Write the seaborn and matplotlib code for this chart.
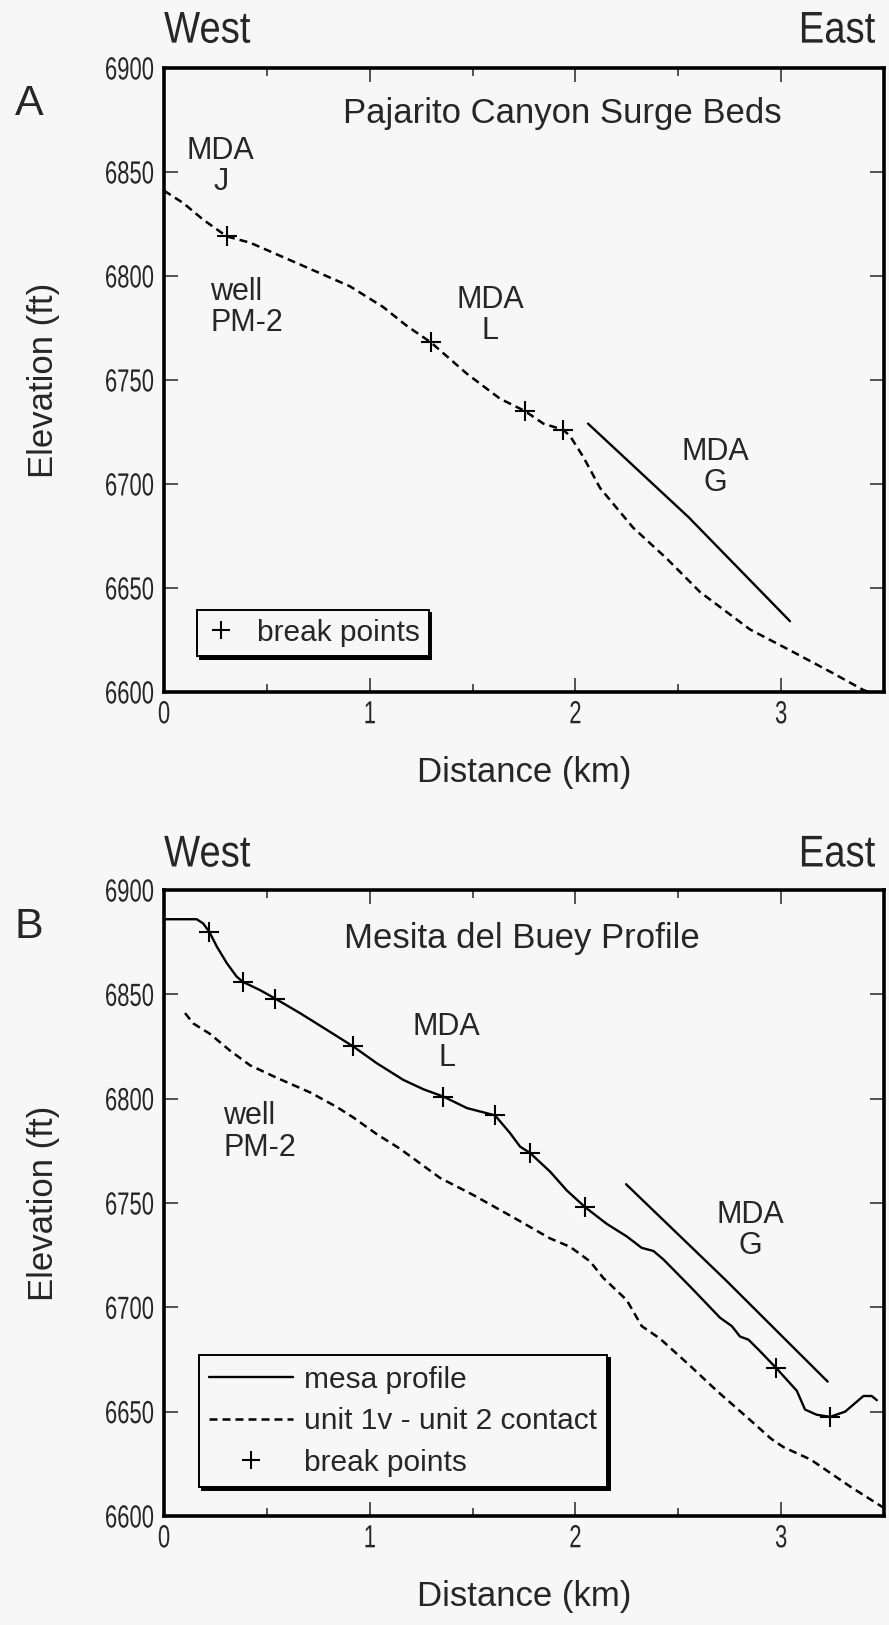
import matplotlib
matplotlib.use('Agg')
import matplotlib.pyplot as plt
from matplotlib.lines import Line2D
from matplotlib.patheffects import AbstractPathEffect
from matplotlib.transforms import Affine2D
import seaborn as sns

# Panel A - Pajarito Canyon surge beds
a_contact_x = [0.0, 0.094, 0.191, 0.305, 0.418, 0.580, 0.742, 0.904, 1.066, 1.180, 1.298, 1.472, 1.633,
               1.755, 1.844, 1.941, 1.974, 2.038, 2.120, 2.280, 2.445, 2.606, 2.849, 3.043, 3.252, 3.398, 3.5]
a_contact_y = [6841, 6835, 6827, 6819, 6816, 6809, 6802, 6795, 6785, 6776, 6768, 6753, 6741,
               6735, 6729, 6726, 6723, 6713, 6698, 6679, 6664, 6648, 6630, 6620, 6609, 6601, 6597]
a_mdag_x = [2.061, 2.55, 3.043]
a_mdag_y = [6729, 6684, 6634]
a_break_x = [0.305, 1.298, 1.755, 1.941]
a_break_y = [6819, 6768, 6735, 6726]

# Panel B - Mesita del Buey profile
b_profile_x = [0.0, 0.159, 0.190, 0.220, 0.256, 0.305, 0.353, 0.383, 0.467, 0.540, 0.661, 0.791, 0.920,
               1.034, 1.163, 1.261, 1.358, 1.472, 1.609, 1.682, 1.731, 1.779, 1.877, 1.958, 2.047, 2.152,
               2.249, 2.322, 2.379, 2.427, 2.557, 2.703, 2.760, 2.800, 2.841, 2.897, 2.975, 3.076, 3.116,
               3.173, 3.238, 3.311, 3.400, 3.440, 3.465]
b_profile_y = [6886, 6886, 6884, 6880, 6873, 6865, 6858.5, 6856, 6852, 6848, 6841, 6833, 6825,
               6817, 6809, 6804.5, 6801, 6795.5, 6792, 6783.5, 6777, 6774, 6765, 6756, 6748, 6740,
               6734, 6728.5, 6727, 6723, 6710, 6695, 6691, 6686, 6684.5, 6679, 6671, 6660, 6651,
               6648.5, 6647.5, 6650, 6657.5, 6657.5, 6655.5]
b_contact_x = [0.102, 0.143, 0.224, 0.321, 0.418, 0.548, 0.710, 0.840, 0.920, 1.034, 1.147, 1.342, 1.5,
               1.7, 1.877, 1.974, 2.071, 2.136, 2.249, 2.322, 2.411, 2.557, 2.687, 2.849, 2.951, 3.011,
               3.144, 3.337, 3.489, 3.5]
b_contact_y = [6841, 6836, 6831, 6823, 6816, 6810, 6803, 6796, 6791, 6783, 6776, 6762, 6754,
               6743, 6733, 6729, 6722, 6714, 6703.5, 6691, 6685, 6672, 6660, 6646, 6637, 6633,
               6627, 6614, 6604.5, 6604]
b_mdag_x = [2.246, 2.736, 3.226]
b_mdag_y = [6759, 6712.5, 6664.4]
b_break_x = [0.220, 0.383, 0.540, 0.920, 1.358, 1.609, 1.779, 2.047, 2.975, 3.238]
b_break_y = [6880, 6856, 6848, 6825, 6801, 6792, 6774, 6748, 6671, 6647.5]

x_ticks = [0, 1, 2, 3]
x_minor = [0.5, 1.5, 2.5]
y_ticks = [6600, 6650, 6700, 6750, 6800, 6850, 6900]

bg = '#f7f7f7'
sns.set_style('ticks')
plt.rcParams['font.family'] = ['Liberation Sans', 'DejaVu Sans']


class Squeeze(AbstractPathEffect):
    """Narrow the glyphs horizontally, like the condensed Helvetica of the scan."""

    def __init__(self, sx, anchor='left'):
        super().__init__()
        self.sx = sx
        self.anchor = anchor

    def draw_path(self, renderer, gc, tpath, affine, rgbFace=None):
        ext = tpath.get_extents()
        if self.anchor == 'right':
            x0 = ext.x1
        elif self.anchor == 'center':
            x0 = (ext.x0 + ext.x1) / 2
        else:
            x0 = ext.x0
        pre = Affine2D().translate(-x0, 0).scale(self.sx, 1).translate(x0, 0)
        renderer.draw_path(gc, tpath, pre + affine, rgbFace)


fig = plt.figure(figsize=(8.89, 16.25), dpi=100, facecolor=bg)
axA = fig.add_axes([0.1845, 0.5742, 0.8099, 0.3840])
axB = fig.add_axes([0.1845, 0.0671, 0.8099, 0.3852])

dash = (3.2, 2.0)


def dashed(ax, x, y):
    sns.lineplot(x=x, y=y, ax=ax, sort=False, estimator=None, color='black', linewidth=1.8)
    ax.lines[-1].set_dashes(dash)


def solid(ax, x, y):
    sns.lineplot(x=x, y=y, ax=ax, sort=False, estimator=None, color='black', linewidth=1.7)


def breaks(ax, x, y):
    sns.scatterplot(x=x, y=y, ax=ax, marker='+', s=190, color='black', linewidth=1.5, zorder=5)


def style(ax, top_frac):
    ax.set_facecolor(bg)
    ax.set_xlim(0, 3.5)
    ax.set_ylim(6600, 6900)
    ax.set_xticks(x_ticks)
    ax.set_xticks(x_minor, minor=True)
    ax.set_yticks(y_ticks)
    ax.tick_params(which='major', direction='in', top=True, right=True, length=10, width=1.1,
                   labelsize=23)
    ax.tick_params(which='minor', direction='in', top=True, right=True, length=6, width=1.1)
    ax.tick_params(axis='x', pad=6)
    ax.tick_params(axis='y', pad=7)
    for lab in ax.get_xticklabels():
        lab.set_path_effects([Squeeze(0.69, 'center')])
    for lab in ax.get_yticklabels():
        lab.set_path_effects([Squeeze(0.69, 'right')])
    for sp in ax.spines.values():
        sp.set_linewidth(2.6)
        sp.set_color('black')
    ax.set_xlabel('Distance (km)', fontsize=25)
    ax.set_ylabel('Elevation (ft)', fontsize=25)
    ax.xaxis.set_label_coords(0.5, -0.103)
    ax.yaxis.set_label_coords(-0.145, 0.5)
    ax.text(0.0, top_frac, 'West', transform=ax.transAxes, ha='left', va='center',
            fontsize=32, path_effects=[Squeeze(0.86, 'left')])
    ax.text(0.988, top_frac, 'East', transform=ax.transAxes, ha='right', va='center',
            fontsize=32, path_effects=[Squeeze(0.86, 'right')])


def note(ax, x, y, s, ha='center'):
    ax.text(x, y, s, ha=ha, va='center', fontsize=22, linespacing=1.05,
            multialignment='center' if ha == 'center' else 'left')


# ---- panel A
dashed(axA, a_contact_x, a_contact_y)
solid(axA, a_mdag_x, a_mdag_y)
breaks(axA, a_break_x, a_break_y)
style(axA, 1.059)
axA.text(1.935, 6878, 'Pajarito Canyon Surge Beds', ha='center', va='center', fontsize=25)
note(axA, 0.276, 6852.5, 'MDA\nJ')
note(axA, 0.224, 6785, 'well\nPM-2', ha='left')
note(axA, 1.585, 6781, 'MDA\nL')
note(axA, 2.679, 6708, 'MDA\nG')
legA = axA.legend(handles=[Line2D([], [], color='black', marker='+', markersize=13, mew=1.5, ls='none')],
                  labels=['break points'], loc='lower left', bbox_to_anchor=(0.046, 0.058),
                  borderaxespad=0, fontsize=21.5, frameon=True, fancybox=False, framealpha=1,
                  facecolor=bg, edgecolor='black', handlelength=1.0, handletextpad=0.7,
                  borderpad=0.3, shadow={'color': 'black', 'alpha': 1})
legA.get_frame().set_linewidth(1.4)

# ---- panel B
solid(axB, b_profile_x, b_profile_y)
dashed(axB, b_contact_x, b_contact_y)
solid(axB, b_mdag_x, b_mdag_y)
breaks(axB, b_break_x, b_break_y)
style(axB, 1.056)
axB.text(1.74, 6877, 'Mesita del Buey Profile', ha='center', va='center', fontsize=25)
note(axB, 1.374, 6827, 'MDA\nL')
note(axB, 0.289, 6784, 'well\nPM-2', ha='left')
note(axB, 2.849, 6737, 'MDA\nG')
h_solid = Line2D([], [], color='black', linewidth=1.7)
h_dash = Line2D([], [], color='black', linewidth=1.8, dashes=dash)
h_plus = Line2D([], [], color='black', marker='+', markersize=13, mew=1.5, ls='none')
legB = axB.legend(handles=[h_solid, h_dash, h_plus],
                  labels=['mesa profile', 'unit 1v - unit 2 contact', 'break points'],
                  loc='lower left', bbox_to_anchor=(0.0486, 0.0463), borderaxespad=0,
                  fontsize=21.5, frameon=True, fancybox=False, framealpha=1, facecolor=bg,
                  edgecolor='black', handlelength=2.8, handletextpad=0.35, labelspacing=0.45,
                  borderpad=0.35, shadow={'color': 'black', 'alpha': 1})
legB.get_frame().set_linewidth(1.4)

fig.text(0.0326, 0.936, 'A', fontsize=31, ha='center', va='center')
fig.text(0.0326, 0.4295, 'B', fontsize=31, ha='center', va='center')

fig.savefig('out.png', dpi=100, facecolor=bg)
